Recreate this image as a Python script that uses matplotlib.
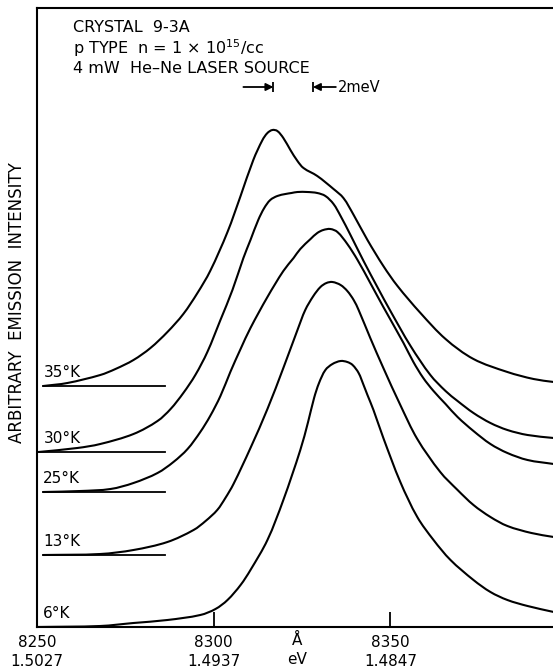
import numpy as np
import matplotlib.pyplot as plt
import matplotlib.transforms as mtransforms
from matplotlib.path import Path
from matplotlib.patches import PathPatch

# emission spectra, wavelength in angstrom, intensity in arbitrary units (curves offset)
wl_35 = [8251.8, 8258.6, 8267.9, 8272.2, 8277.3, 8282.1, 8286.9, 8291.4, 8295.4, 8299.0,
         8303.9, 8307.6, 8311.2, 8313.8, 8315.2, 8316.6, 8318.0, 8319.7, 8321.7, 8323.7,
         8325.4, 8329.3, 8333.9, 8336.7, 8339.6, 8343.5, 8348.0, 8352.0, 8358.5, 8365.6,
         8373.5, 8383.1, 8390.5, 8396.2]
int_35 = [24.1, 24.4, 25.2, 25.8, 26.7, 27.9, 29.5, 31.3, 33.4, 35.6,
          39.5, 43.1, 46.7, 48.7, 49.4, 49.7, 49.6, 48.9, 47.7, 46.6,
          45.9, 45.1, 43.8, 42.9, 41.2, 38.7, 36.1, 34.1, 31.4, 28.8,
          26.8, 25.5, 24.8, 24.5]

wl_30 = [8250.4, 8261.4, 8267.9, 8277.3, 8284.1, 8287.8, 8291.4, 8294.8, 8298.2, 8301.9,
         8305.3, 8308.4, 8310.4, 8312.6, 8314.3, 8316.0, 8318.0, 8320.3, 8322.0, 8323.7,
         8326.5, 8329.3, 8331.6, 8333.9, 8335.9, 8338.7, 8342.4, 8346.3, 8350.0, 8355.7,
         8361.3, 8365.6, 8369.0, 8373.5, 8378.3, 8383.1, 8388.8, 8396.2]
int_30 = [17.5, 17.9, 18.3, 19.3, 20.6, 21.8, 23.4, 25.2, 27.5, 30.7,
          33.7, 36.9, 38.7, 40.7, 41.9, 42.7, 43.1, 43.3, 43.4, 43.5,
          43.5, 43.4, 43.1, 42.3, 41.1, 39.2, 36.6, 34.0, 31.6, 28.1,
          25.2, 23.6, 22.6, 21.4, 20.4, 19.7, 19.2, 18.9]

wl_25 = [8251.8, 8262.3, 8270.8, 8277.3, 8284.1, 8288.6, 8292.6, 8296.2, 8299.0, 8301.9,
         8304.7, 8307.6, 8310.4, 8315.2, 8319.7, 8322.6, 8324.5, 8327.4, 8329.3, 8331.0,
         8333.0, 8335.0, 8337.8, 8340.7, 8344.3, 8348.0, 8353.7, 8356.5, 8359.3, 8362.2,
         8365.6, 8369.0, 8373.5, 8378.3, 8383.1, 8388.8, 8396.2]
int_25 = [13.5, 13.6, 13.8, 14.4, 15.4, 16.5, 17.8, 19.5, 21.1, 23.1,
          25.5, 27.8, 29.9, 33.0, 35.6, 36.9, 37.8, 38.8, 39.4, 39.7,
          39.8, 39.5, 38.3, 36.7, 34.4, 32.0, 28.4, 26.5, 24.9, 23.6,
          22.3, 21.0, 19.6, 18.3, 17.4, 16.7, 16.3]

wl_13 = [8251.8, 8267.9, 8277.3, 8286.9, 8294.3, 8297.7, 8301.0, 8303.3, 8305.6, 8310.4,
         8315.2, 8319.7, 8323.7, 8325.9, 8328.2, 8330.2, 8331.9, 8333.6, 8335.9, 8337.8,
         8339.6, 8341.0, 8344.3, 8348.0, 8352.8, 8357.6, 8364.1, 8369.0, 8373.5, 8378.3,
         8383.1, 8389.9, 8396.2]
int_13 = [7.2, 7.3, 7.7, 8.5, 9.7, 10.6, 11.7, 12.9, 14.3, 17.9,
          21.8, 25.9, 29.7, 31.7, 33.1, 34.0, 34.4, 34.5, 34.2, 33.6,
          32.7, 31.7, 28.9, 25.9, 22.2, 18.8, 15.5, 13.7, 12.2, 11.0,
          10.1, 9.4, 9.0]

wl_6 = [8250.1, 8267.9, 8277.3, 8286.9, 8296.2, 8300.5, 8303.9, 8307.6, 8310.4, 8315.2,
        8319.7, 8324.5, 8326.7, 8328.4, 8329.8, 8331.6, 8333.6, 8335.9, 8337.8, 8339.3,
        8341.0, 8342.4, 8343.5, 8345.2, 8348.0, 8352.8, 8357.6, 8362.2, 8367.0, 8373.5,
        8378.3, 8383.1, 8388.8, 8396.2]
int_6 = [0.0, 0.1, 0.4, 0.7, 1.2, 1.8, 2.7, 4.2, 5.7, 8.7,
         12.7, 17.7, 20.5, 22.9, 24.4, 25.7, 26.3, 26.6, 26.5, 26.2,
         25.4, 24.2, 23.2, 21.7, 18.9, 14.5, 11.0, 8.7, 6.7, 4.7,
         3.5, 2.7, 2.1, 1.5]

temps = ["35°K", "30°K", "25°K", "13°K", "6°K"]
baselines = [24.1, 17.5, 13.5, 7.2, 0.0]
baseline_start = [8251.8, 8250.2, 8251.8, 8251.8, None]
baseline_end = 8286.1

tick_wl = [8250, 8300, 8350]
tick_ev = ["1.5027", "1.4937", "1.4847"]

# resolution marker: 2 meV expressed as a wavelength interval
mark_wl = 8316.9
mark_mev = 2.0
mark_y = 54.0


def smooth_path(ax, xs, ys):
    # cubic bezier through the points, tangents worked out in screen space
    pts = ax.transData.transform(np.column_stack([xs, ys]))
    n = len(pts)
    verts = [pts[0]]
    codes = [Path.MOVETO]
    for i in range(n - 1):
        p0, p1 = pts[max(i - 1, 0)], pts[i]
        p2, p3 = pts[i + 1], pts[min(i + 2, n - 1)]
        d = np.linalg.norm(p2 - p1)
        t1 = (p2 - p0) / np.linalg.norm(p2 - p0)
        t2 = (p3 - p1) / np.linalg.norm(p3 - p1)
        verts += [p1 + t1 * d / 3, p2 - t2 * d / 3, p2]
        codes += [Path.CURVE4] * 3
    verts = ax.transData.inverted().transform(np.array(verts))
    return Path(verts, codes)


fig = plt.figure(figsize=(5.53, 6.68), dpi=100)
ax = fig.add_axes([37 / 553, 41 / 668, 516 / 553, 619 / 668])
ax.set_xlim(8250, 8396)
ax.set_ylim(0, 61.9)

curves = [(wl_35, int_35), (wl_30, int_30), (wl_25, int_25), (wl_13, int_13), (wl_6, int_6)]
for (wl, inten), name, base, start in zip(curves, temps, baselines, baseline_start):
    ax.add_patch(PathPatch(smooth_path(ax, wl, inten), fill=False, ec="black", lw=1.5,
                           joinstyle="round", capstyle="round"))
    if start is not None:
        ax.plot([start, baseline_end], [base, base], color="black", lw=1.3)
    ax.text(8251.8, base + 0.9, name, fontsize=11, va="baseline", ha="left")

ax.spines["right"].set_visible(False)
for side in ["left", "bottom", "top"]:
    ax.spines[side].set_linewidth(1.5)
ax.set_yticks([])
ax.set_xticks(tick_wl)
ax.set_xticklabels([f"{w}\n{e}" for w, e in zip(tick_wl, tick_ev)])
ax.tick_params(axis="x", direction="in", length=11, width=1.3, pad=6, labelsize=11)
for lab in ax.get_xticklabels():
    lab.set_linespacing(1.3)

# unit labels under the axis, between the ticks
trans = mtransforms.blended_transform_factory(ax.transData, ax.transAxes)
ax.text(8323.7, -0.0097, "Å\neV", transform=trans, ha="center", va="top",
        fontsize=11, linespacing=1.3)

# sample description
desc = ["CRYSTAL  9-3A", "p TYPE  n = 1 × 10$^{15}$/cc", "4 mW  He–Ne LASER SOURCE"]
for line, yy in zip(desc, [0.969, 0.935, 0.903]):
    ax.text(0.07, yy, line, transform=ax.transAxes, fontsize=11.5, va="center", ha="left")

width = mark_wl ** 2 * mark_mev * 1e-3 / 12398.4
right_wl = mark_wl + width
ax.vlines([mark_wl, right_wl], mark_y - 0.5, mark_y + 0.5, color="black", lw=1.3)
arrow = dict(arrowstyle="-|>", color="black", lw=1.3, mutation_scale=11, shrinkA=0, shrinkB=0)
ax.annotate("", xy=(mark_wl, mark_y), xytext=(mark_wl - 8.5, mark_y), arrowprops=arrow)
ax.annotate("", xy=(right_wl, mark_y), xytext=(right_wl + 6.5, mark_y), arrowprops=arrow)
ax.text(right_wl + 7.2, mark_y, "2meV", fontsize=10.5, va="center", ha="left")

fig.text(17 / 553, 1 - 303 / 668, "ARBITRARY  EMISSION  INTENSITY", rotation=90,
         ha="center", va="center", fontsize=12)

fig.savefig("out.png", dpi=100)
